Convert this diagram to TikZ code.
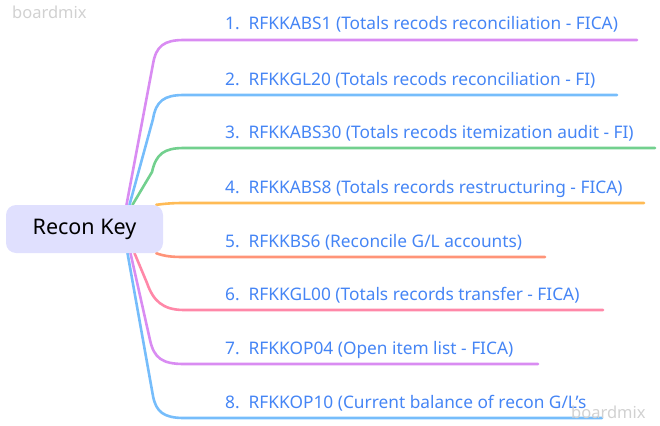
\documentclass[tikz,border=0pt]{standalone}
\usepackage{fontspec}
\setmainfont{Noto Sans}
\usepackage{tikz}
\usetikzlibrary{positioning,calc,backgrounds}
\definecolor{RKlavender}{HTML}{E0E0FE}
\definecolor{RKtext}{HTML}{4585F5}
\definecolor{RKpurple}{HTML}{D98CF2}
\definecolor{RKblue}{HTML}{76BDFB}
\definecolor{RKgreen}{HTML}{72D08E}
\definecolor{RKorange}{HTML}{FFBB55}
\definecolor{RKsalmon}{HTML}{FF9478}
\definecolor{RKpink}{HTML}{FF88A8}
\tikzset{
  rk/root/.style={fill=RKlavender, rounded corners=10pt, minimum width=157pt, minimum height=48pt, inner sep=0pt, font=\fontsize{21.5}{24}\selectfont},
  rk/label/.style={anchor=base west, inner sep=0pt, text=RKtext, font=\fontsize{17.3}{20}\selectfont},
  rk/branch/.style={line width=2.6pt, line cap=round},
  rk/mark/.style={anchor=base west, inner sep=0pt, text=black!18, font=\fontsize{16.5}{19}\selectfont}
}

\begin{document}
\begin{tikzpicture}[x=1pt, y=-1pt]
  \useasboundingbox (0,0) rectangle (660,425);

  \node[rk/root] (root) at (84.5,229) {Recon Key};

  \node[rk/label] (l1) at (225,30) {1.\ \ RFKKABS1 (Totals recods reconciliation - FICA)};
  \node[rk/label] (l2) at (225,85) {2.\ \ RFKKGL20 (Totals recods reconciliation - FI)};
  \node[rk/label] (l3) at (225,138) {3.\ \ RFKKABS30 (Totals recods itemization audit - FI)};
  \node[rk/label] (l4) at (225,193) {4.\ \ RFKKABS8 (Totals records restructuring - FICA)};
  \node[rk/label] (l5) at (225,247) {5.\ \ RFKKBS6 (Reconcile G/L accounts)};
  \node[rk/label] (l6) at (225,300) {6.\ \ RFKKGL00 (Totals records transfer - FICA)};
  \node[rk/label] (l7) at (225,354) {7.\ \ RFKKOP04 (Open item list - FICA)};
  \node[rk/label] (l8) at (225,408) {8.\ \ RFKKOP10 (Current balance of recon G/L's};

  \coordinate (e1) at (637,40);
  \coordinate (e2) at (617,95);
  \coordinate (e3) at (655,148);
  \coordinate (e4) at (644,203);
  \coordinate (e5) at (545,257);
  \coordinate (e6) at (603,310);
  \coordinate (e7) at (538,364);
  \coordinate (e8) at (602,418);

  \begin{scope}[on background layer]
    \draw[rk/branch, RKpurple] ([xshift=42pt]root.north) -- (153,64) .. controls (156,46) and (164,40) .. (184,40) -- (e1);
    \draw[rk/branch, RKblue] ([xshift=45pt]root.north) -- (153,119) .. controls (156,101) and (164,95) .. (184,95) -- (e2);
    \draw[rk/branch, RKgreen] ([xshift=48pt]root.north) -- (152,172) .. controls (156,154) and (164,148) .. (184,148) -- (e3);
    \draw[rk/branch, RKorange] ([xshift=-7pt]root.north east) .. controls (163,204) and (170,203) .. (184,203) -- (e4);
    \draw[rk/branch, RKsalmon] ([xshift=-7pt]root.south east) .. controls (164,256) and (170,257) .. (184,257) -- (e5);
    \draw[rk/branch, RKpink] ([xshift=50pt]root.south) -- (147,283) .. controls (153,300) and (162,310) .. (184,310) -- (e6);
    \draw[rk/branch, RKpurple] ([xshift=46pt]root.south) -- (150,340) .. controls (154,358) and (162,364) .. (184,364) -- (e7);
    \draw[rk/branch, RKblue] ([xshift=43pt]root.south) -- (153,396) .. controls (156,412) and (164,418) .. (184,418) -- (e8);
  \end{scope}

  \node[rk/mark] (wm1) at (12,19) {boardmix};
  \node[rk/mark] (wm2) at (571,418) {boardmix};
\end{tikzpicture}
\end{document}
